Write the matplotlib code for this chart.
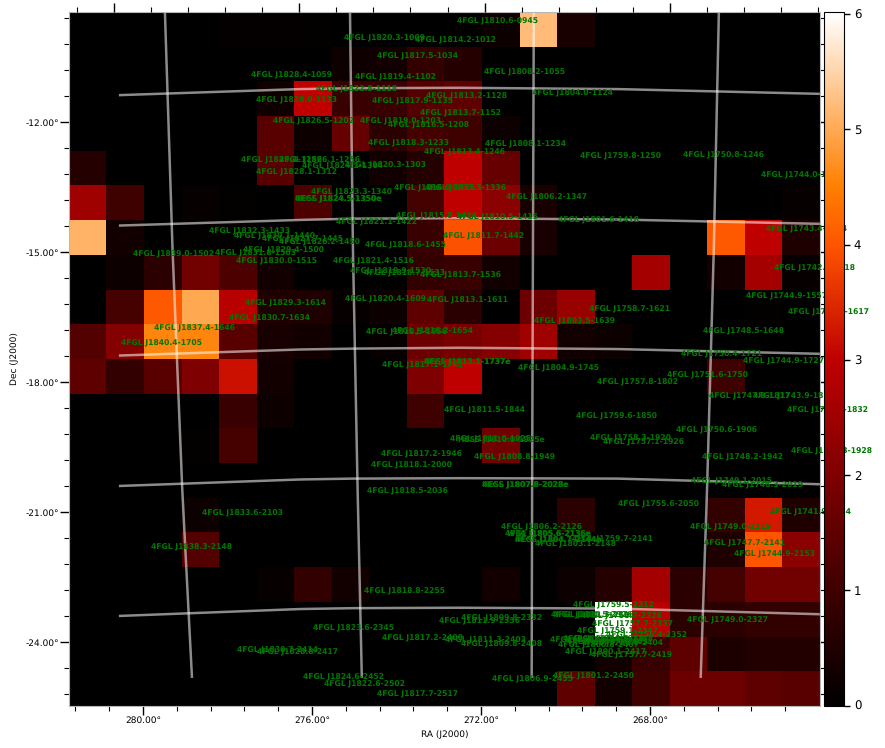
from __future__ import annotations

import re

import matplotlib

matplotlib.use("Agg")
import matplotlib.pyplot as plt
import numpy as np
from matplotlib.ticker import FixedLocator, FuncFormatter, MultipleLocator

plt.rcParams["text.hinting"] = "none"

# Count map, top row first, one row per Dec bin
counts_rows = [
    [0, 0, 0, 0, 0.08, 0.08, 0.05, 0, 0, 0, 0, 0.2, 5.2, 0.4, 0, 0, 0, 0, 0, 0],
    [0, 0, 0, 0, 0, 0, 0, 0.25, 0.3, 0.8, 0.6, 0, 0, 0, 0, 0, 0, 0, 0, 0],
    [0, 0, 0, 0, 0, 0.25, 3.0, 0.9, 0.9, 1.35, 1.5, 0, 0, 0, 0, 0, 0, 0, 0, 0],
    [0, 0, 0, 0, 0, 1.4, 0.2, 1.6, 0.7, 1.1, 1.0, 0.2, 0, 0, 0, 0, 0, 0, 0, 0],
    [0.6, 0, 0, 0, 0, 1.4, 0, 0, 0.3, 0.6, 3.0, 1.6, 0, 0, 0, 0, 0, 0, 0, 0],
    [2.5, 1.0, 0, 0.1, 0.05, 0, 1.2, 0, 0, 1.1, 3.0, 2.2, 0.4, 0, 0.03, 0.03, 0, 0, 0, 0.1],
    [5.1, 0.3, 0, 0.05, 0.05, 0, 0, 0, 0, 0.9, 3.95, 1.7, 0.4, 0, 0, 0, 0, 4.05, 3.0, 0.5],
    [0, 0.2, 0.7, 1.8, 1.2, 0.3, 0, 0, 0, 0.8, 0.9, 0.3, 0, 0, 0, 2.6, 0, 0.3, 2.6, 0.1],
    [0, 1.1, 4.05, 5.0, 2.9, 0.5, 0.5, 0.1, 0.2, 1.5, 0.7, 0, 1.7, 2.4, 0, 0, 0, 0, 0.05, 0],
    [1.3, 2.1, 4.6, 4.6, 1.4, 0.4, 0.3, 0, 0.1, 1.7, 1.9, 2.1, 2.5, 0.3, 0.2, 0, 0, 0, 0, 0],
    [1.5, 0.8, 1.4, 2.0, 3.2, 0.3, 0, 0, 0, 2.0, 3.0, 0, 0, 0, 0, 0, 0, 1.0, 0, 0],
    [0, 0, 0, 0, 0.9, 0.2, 0, 0, 0, 1.0, 0, 0, 0, 0, 0, 0, 0, 0, 0, 0],
    [0, 0, 0, 0.05, 1.1, 0, 0, 0, 0, 0.05, 0, 1.8, 0, 0, 0, 0, 0, 0, 0, 0],
    [0, 0, 0, 0.03, 0, 0, 0, 0, 0, 0, 0, 0, 0, 0, 0, 0, 0, 0, 0, 0],
    [0, 0, 0, 0.2, 0, 0, 0, 0, 0, 0, 0, 0, 0, 0.7, 0, 0, 0, 0.8, 3.3, 0.5],
    [0, 0, 0, 1.3, 0, 0, 0, 0, 0, 0, 0, 0, 0, 0.05, 0.05, 0, 0, 0.5, 4.0, 2.2],
    [0, 0, 0, 0, 0, 0.1, 0.8, 0.3, 0, 0, 0, 0.3, 0, 0.2, 0.6, 2.6, 0.7, 1.1, 1.8, 1.8],
    [0, 0, 0, 0, 0, 0, 0, 0, 0, 0, 0, 0, 0, 0, 6.015, 2.9, 0.7, 0.7, 0.8, 0.8],
    [0, 0, 0, 0, 0, 0, 0, 0, 0, 0, 0, 0, 0, 0, 0.3, 0.9, 1.5, 0.45, 0.55, 0.55],
    [0, 0, 0, 0, 0, 0, 0, 0, 0, 0, 0, 0, 0, 1.5, 0.3, 1.0, 1.7, 1.7, 1.5, 1.4],
]

source_names = [
    "4FGL J1810.6-0945", "4FGL J1820.3-1009", "4FGL J1814.2-1012", "4FGL J1817.5-1034",
    "4FGL J1828.4-1059", "4FGL J1819.4-1102", "4FGL J1808.2-1055", "4FGL J1822.8-1118",
    "4FGL J1828.0-1133", "4FGL J1817.9-1135", "4FGL J1813.2-1128", "4FGL J1804.0-1124",
    "4FGL J1813.7-1152", "4FGL J1826.5-1202", "4FGL J1819.0-1203", "4FGL J1816.5-1208",
    "4FGL J1818.3-1233", "4FGL J1808.1-1234", "4FGL J1813.4-1246", "4FGL J1759.8-1250",
    "4FGL J1750.8-1246", "4FGL J1829.4-1256", "4FGL J1826.1-1256", "4FGL J1824.1-1304",
    "4FGL J1820.3-1303", "4FGL J1828.1-1312", "4FGL J1744.0-1310", "4FGL J1823.3-1340",
    "4FGL J1816.0-1335", "4FGL J1813.3-1336", "4FGL J1806.2-1347", "4FGL J1824.5-1350e",
    "HESS J1824.5-1350e", "4FGL J1815.8-1414", "4FGL J1810.5-1415", "4FGL J1801.6-1418",
    "4FGL J1821.1-1422", "4FGL J1743.4-1424", "4FGL J1832.3-1433", "4FGL J1830.1-1440",
    "4FGL J1827.7-1445", "4FGL J1826.2-1450", "4FGL J1811.7-1442", "4FGL J1818.6-1455",
    "4FGL J1839.0-1502", "4FGL J1831.8-1503", "4FGL J1829.4-1500", "4FGL J1830.0-1515",
    "4FGL J1821.4-1516", "4FGL J1819.9-1530", "4FGL J1818.7-1533", "4FGL J1813.7-1536",
    "4FGL J1742.5-1518", "4FGL J1829.3-1614", "4FGL J1820.4-1609", "4FGL J1813.1-1611",
    "4FGL J1744.9-1557", "4FGL J1758.7-1621", "4FGL J1741.1-1617", "4FGL J1830.7-1634",
    "4FGL J1803.5-1639", "4FGL J1818.5-1656", "4FGL J1816.2-1654", "4FGL J1837.4-1646",
    "4FGL J1748.5-1648", "4FGL J1840.4-1705", "4FGL J1750.4-1721", "4FGL J1744.9-1727",
    "4FGL J1817.1-1742", "4FGL J1813.1-1737e", "HESS J1813.1-1737e", "4FGL J1804.9-1745",
    "4FGL J1751.6-1750", "4FGL J1757.8-1802", "4FGL J1747.8-1817", "4FGL J1743.9-1815",
    "4FGL J1740.8-1832", "4FGL J1811.5-1844", "4FGL J1759.6-1850", "4FGL J1750.6-1906",
    "4FGL J1758.3-1920", "4FGL J1757.1-1926", "4FGL J1811.0-1925", "HESS J1810.0-1925e",
    "4FGL J1740.3-1928", "4FGL J1817.2-1946", "4FGL J1808.8-1949", "4FGL J1748.2-1942",
    "4FGL J1818.1-2000", "4FGL J1749.1-2015", "4FGL J1746.3-2019", "4FGL J1807.8-2028e",
    "HESS J1807.8-2028e", "4FGL J1818.5-2036", "4FGL J1755.6-2050", "4FGL J1833.6-2103",
    "4FGL J1741.9-2054", "4FGL J1806.2-2126", "4FGL J1749.0-2119", "W30 J1805.6-2136e",
    "4FGL J1805.6-2136e", "HESS J1804.7-2144e", "4FGL J1804.7-2144e", "4FGL J1759.7-2141",
    "4FGL J1803.1-2148", "4FGL J1747.7-2141", "4FGL J1838.3-2148", "4FGL J1744.9-2153",
    "4FGL J1818.8-2255", "4FGL J1759.5-2312", "4FGL J1801.5-2326", "4FGL J1801.3-2326",
    "4FGL J1758.7-2326", "4FGL J1749.0-2327", "4FGL J1809.8-2332", "4FGL J1811.9-2336",
    "4FGL J1823.6-2345", "4FGL J1757.7-2337", "4FGL J1759.1-2347", "4FGL J1756.4-2352",
    "4FGL J1817.2-2400", "4FGL J1811.3-2403", "4FGL J1809.8-2408", "4FGL J1801.6-2400",
    "4FGL J1800.4-2358", "4FGL J1759.5-2358", "4FGL J1758.6-2404", "4FGL J1800.0-2403",
    "4FGL J1800.8-2407", "4FGL J1800.1-2417", "4FGL J1757.7-2419", "4FGL J1830.7-2414",
    "4FGL J1828.8-2417", "4FGL J1806.9-2455", "4FGL J1801.2-2450", "4FGL J1824.6-2452",
    "4FGL J1822.6-2502", "4FGL J1817.7-2517",
]

# Graticule traces as (RA, Dec) in plot degrees
meridian_ra = [
    [279.48, 279.30, 279.07, 278.84],
    [275.10, 275.03, 274.92, 274.82],
    [270.75, 270.77, 270.79, 270.80],
    [266.37, 266.49, 266.65, 266.80],
]
meridian_dec = [-9.48, -14.95, -20.49, -24.83]
parallel_ra = [280.57, 276.28, 275.03, 272.50, 268.78, 263.98]
parallel_dec = [
    [-11.38, -11.24, -11.22, -11.21, -11.24, -11.35],
    [-14.39, -14.26, -14.23, -14.22, -14.25, -14.35],
    [-17.39, -17.25, -17.23, -17.21, -17.24, -17.35],
    [-20.40, -20.25, -20.23, -20.22, -20.23, -20.36],
    [-23.40, -23.24, -23.22, -23.21, -23.23, -23.36],
]

ra_major_ticks = [280, 276, 272, 268]
ra_minor_ticks = np.arange(264.8, 281.7, 0.8)


def parse_position(name: str) -> tuple[float, float]:
    # J-names carry the truncated sexagesimal position of the source
    match = re.search(r"J(\d{2})(\d{2}\.\d)([+-])(\d{2})(\d{2})", name)
    ra = 15 * (int(match[1]) + float(match[2]) / 60)
    dec = int(match[4]) + int(match[5]) / 60
    return ra, -dec if match[3] == "-" else dec


def sky_to_plot(ra: float, dec: float) -> tuple[float, float]:
    # Gnomonic projection around the map centre, then scaled onto the plot axes
    ra0, dec0 = np.radians(273.77), np.radians(-17.56)
    a, d = np.radians(ra) - ra0, np.radians(dec)
    denom = np.sin(d) * np.sin(dec0) + np.cos(d) * np.cos(dec0) * np.cos(a)
    xi = np.degrees(np.cos(d) * np.sin(a) / denom)
    eta = np.degrees((np.sin(d) * np.cos(dec0) - np.cos(d) * np.sin(dec0) * np.cos(a)) / denom)
    return 272.85 + xi * 46.75 / 42.25, -17.48 + eta * 0.995


def deg_label(value: float, _pos: float) -> str:
    return f"{value:.2f}°"


fig = plt.figure(figsize=(8.85, 7.48), dpi=100)
ax = fig.add_axes([69 / 885, 1 - 706 / 748, 751 / 885, 694 / 748])
counts = np.array(counts_rows)
image = ax.imshow(
    counts,
    cmap="gist_heat",
    vmin=0,
    vmax=counts.max(),
    extent=(281.751, 263.976, -25.478, -9.461),
    aspect="auto",
    interpolation="nearest",
    origin="upper",
)

for ra_trace in meridian_ra:
    ax.plot(ra_trace, meridian_dec, color="white", alpha=0.55, lw=1.8, solid_capstyle="butt")
for dec_trace in parallel_dec:
    ax.plot(parallel_ra, dec_trace, color="white", alpha=0.55, lw=1.8, solid_capstyle="butt")

for name in source_names:
    x, y = sky_to_plot(*parse_position(name))
    ax.text(x, y, name, color="#007800", fontsize=5.5, fontweight="bold",
            ha="center", va="center", clip_on=False)

ax.set_xlim(281.751, 263.976)
ax.set_ylim(-25.478, -9.461)
ax.xaxis.set_major_locator(FixedLocator(ra_major_ticks))
ax.xaxis.set_minor_locator(FixedLocator(ra_minor_ticks))
ax.yaxis.set_major_locator(MultipleLocator(3))
ax.yaxis.set_minor_locator(MultipleLocator(0.6))
ax.xaxis.set_major_formatter(FuncFormatter(deg_label))
ax.yaxis.set_major_formatter(FuncFormatter(deg_label))
ax.tick_params(which="major", length=6.5, width=1, labelsize=6.5, right=True, pad=0.5)
ax.tick_params(which="minor", length=3.5, width=0.8, right=True)
ax.set_xlabel("RA (J2000)", fontsize=6.5, labelpad=4)
ax.set_ylabel("Dec (J2000)", fontsize=6.5, labelpad=5)
for spine in ax.spines.values():
    spine.set_color("#b8b8b8")

# Meridians spread out toward the north, so the top edge has its own RA scale
ax_top = ax.twiny()
ax_top.set_xlim(280.971, 264.76)
ax_top.xaxis.set_major_locator(MultipleLocator(4))
ax_top.xaxis.set_minor_locator(MultipleLocator(0.8))
ax_top.tick_params(which="major", length=6.5, width=1, labeltop=False)
ax_top.tick_params(which="minor", length=3.5, width=0.8)
for spine in ax_top.spines.values():
    spine.set_visible(False)

cax = fig.add_axes([824 / 885, 1 - 705.7 / 748, 20 / 885, 693.4 / 748], zorder=5)
cbar = fig.colorbar(image, cax=cax, ticks=[0, 1, 2, 3, 4, 5, 6])
cbar.ax.tick_params(length=4, width=1, labelsize=8.5, pad=3)

fig.savefig("out.png", dpi=100)
